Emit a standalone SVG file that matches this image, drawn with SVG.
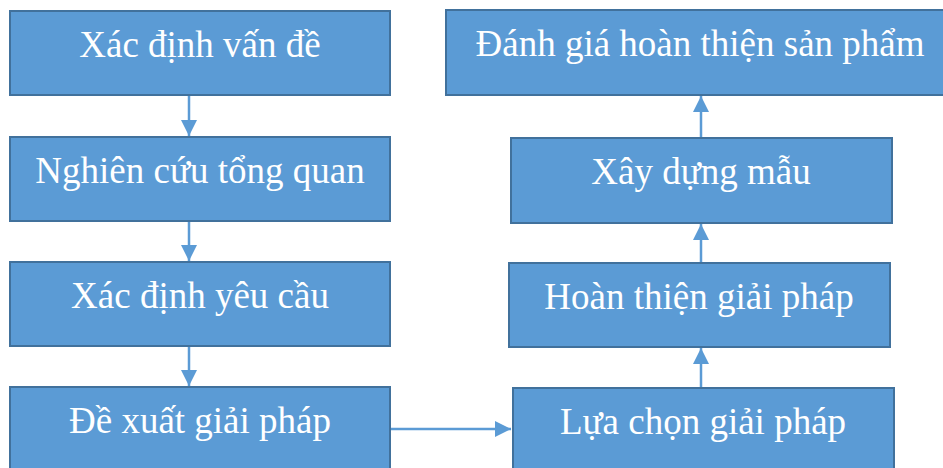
<svg xmlns="http://www.w3.org/2000/svg" width="943" height="468" viewBox="0 0 943 468">
<defs>
<style>
.box{fill:#5B9BD5;stroke:#41719C;stroke-width:2}
.lbl{fill:#FFFFFF;font-family:"Liberation Serif","Times New Roman",serif;font-size:37px;text-anchor:middle}
.con{stroke:#5B9BD5;stroke-width:2.5;fill:none}
</style>
<marker id="ah" viewBox="0 0 10 10" refX="10" refY="5" markerWidth="16" markerHeight="16" markerUnits="userSpaceOnUse" orient="auto">
<path d="M0,0 L10,5 L0,10 Z" fill="#5B9BD5"/>
</marker>
</defs>
<rect width="943" height="468" fill="#FFFFFF"/>
<g id="connectors">
<line class="con" x1="189" y1="96" x2="189" y2="136" marker-end="url(#ah)"/>
<line class="con" x1="189" y1="222" x2="189" y2="261" marker-end="url(#ah)"/>
<line class="con" x1="189" y1="347" x2="189" y2="386" marker-end="url(#ah)"/>
<line class="con" x1="391" y1="429" x2="511" y2="429" marker-end="url(#ah)"/>
<line class="con" x1="701" y1="387" x2="701" y2="348" marker-end="url(#ah)"/>
<line class="con" x1="701" y1="262" x2="701" y2="224" marker-end="url(#ah)"/>
<line class="con" x1="701" y1="137" x2="701" y2="96" marker-end="url(#ah)"/>
</g>
<g id="xac-dinh-van-de">
<rect class="box" x="10" y="11" width="380" height="84"/>
<text class="lbl" x="200" y="57">Xác định vấn đề</text>
</g>
<g id="nghien-cuu-tong-quan">
<rect class="box" x="10" y="137" width="380" height="84"/>
<text class="lbl" x="200" y="183">Nghiên cứu tổng quan</text>
</g>
<g id="xac-dinh-yeu-cau">
<rect class="box" x="10" y="262" width="380" height="84"/>
<text class="lbl" x="200" y="308">Xác định yêu cầu</text>
</g>
<g id="de-xuat-giai-phap">
<rect class="box" x="10" y="387" width="380" height="90"/>
<text class="lbl" x="200" y="433">Đề xuất giải pháp</text>
</g>
<g id="lua-chon-giai-phap">
<rect class="box" x="513" y="388" width="381" height="90"/>
<text class="lbl" x="703" y="434">Lựa chọn giải pháp</text>
</g>
<g id="hoan-thien-giai-phap">
<rect class="box" x="509" y="263" width="381" height="84"/>
<text class="lbl" x="699" y="309">Hoàn thiện giải pháp</text>
</g>
<g id="xay-dung-mau">
<rect class="box" x="511" y="138" width="381" height="85"/>
<text class="lbl" x="701" y="184">Xây dựng mẫu</text>
</g>
<g id="danh-gia-hoan-thien-san-pham">
<rect class="box" x="446" y="10" width="508" height="85"/>
<text class="lbl" x="700" y="56">Đánh giá hoàn thiện sản phẩm</text>
</g>
</svg>
